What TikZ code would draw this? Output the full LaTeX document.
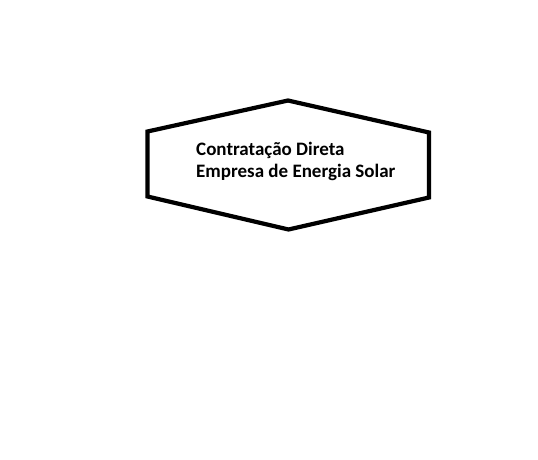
\documentclass[tikz,border=0pt]{standalone}
\usepackage{fontspec}
\setmainfont{Carlito}
\begin{document}
\begin{tikzpicture}[x=1pt,y=-1pt,
  hexline/.style={line width=4.2pt,line join=miter,draw=black},
  lbl/.style={font=\bfseries\fontsize{19}{22}\selectfont,inner sep=0pt,anchor=base west}]
\useasboundingbox (0,0) rectangle (538,460);
\coordinate (t) at (288,100.5);
\coordinate (ur) at (429,132.5);
\coordinate (lr) at (429,197.5);
\coordinate (b) at (288.5,229.5);
\coordinate (ll) at (147.5,196.5);
\coordinate (ul) at (147.5,131.5);
\draw[hexline] (t) -- (ur) -- (lr) -- (b) -- (ll) -- (ul) -- cycle;
\node[lbl] (l1) at (196,155.5) {Contratação Direta};
\node[lbl] (l2) at (196,177.5) {Empresa de Energia Solar};
\end{tikzpicture}
\end{document}
